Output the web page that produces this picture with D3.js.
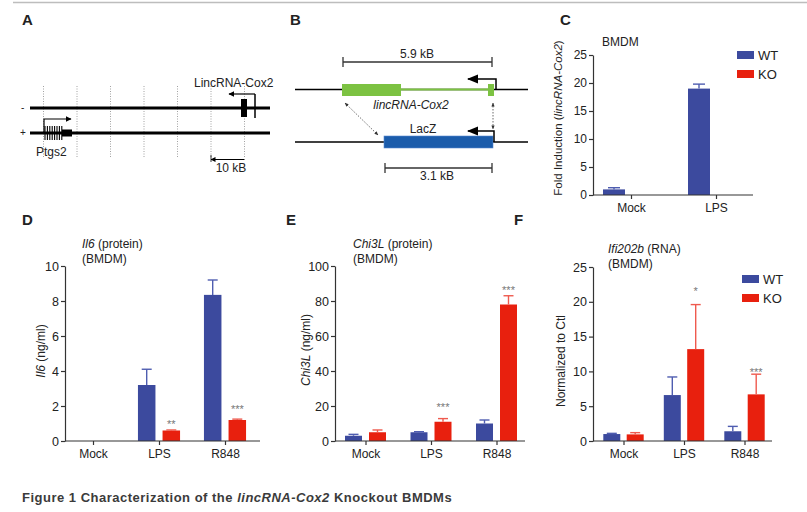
<!DOCTYPE html>
<html><head><meta charset="utf-8">
<script src="https://cdn.jsdelivr.net/npm/d3@7"></script>
<style>body{margin:0;background:#fff} svg{display:block;font-family:"Liberation Sans",Arial,Helvetica,sans-serif}</style>
</head><body><svg id="chart" width="807" height="512"></svg>
<script>
// ---------------- data ----------------
const seriesNames = ["WT", "KO"];
const groupsC = ["Mock", "LPS"];
const groupsDEF = ["Mock", "LPS", "R848"];
const ticksC = [0, 5, 10, 15, 20, 25];
const ticksD = [0, 2, 4, 6, 8, 10];
const ticksE = [0, 20, 40, 60, 80, 100];
const ticksF = [0, 5, 10, 15, 20, 25];

const lincWT = [1.0, 19.0];
const lincWTErr = [1.3, 19.8];
const lincKO = [0, 0];
const lincKOErr = [0, 0];

const il6WT = [0, 3.2, 8.35];
const il6WTErr = [0, 4.1, 9.2];
const il6KO = [0, 0.6, 1.2];
const il6KOErr = [0, 0.63, 1.25];
const il6Stars = ["", "**", "***"];
const il6StarAt = [0, 1.1, 1.95];

const chiWT = [3, 5, 10];
const chiWTErr = [3.8, 5.3, 12];
const chiKO = [5, 11, 78];
const chiKOErr = [6.3, 12.8, 83];
const chiStars = ["", "***", "***"];
const chiStarAt = [0, 20.6, 87.4];

const ifiWT = [1.0, 6.6, 1.4];
const ifiWTErr = [1.1, 9.2, 2.1];
const ifiKO = [0.95, 13.2, 6.7];
const ifiKOErr = [1.2, 19.6, 9.6];
const ifiStars = ["", "*", "***"];
const ifiStarAt = [0, 21.8, 10.2];

const gridKb = [0, 10, 20, 30, 40, 50, 60];

// ---------------- styles ----------------
const BLUE = "#3c4a9e", RED = "#e8200e";
const BLUE_ERR = "#4f5db0", RED_ERR = "#ef5a4e";
const AXIS = "#333";
const FONT = '"Liberation Sans",Arial,Helvetica,sans-serif';

const svg = d3.select("#chart");

// top separator
svg.append("line").attr("x1", 13).attr("x2", 807).attr("y1", 2.5).attr("y2", 2.5)
  .attr("stroke", "#bdbdbd").attr("stroke-width", 1.5);

function letter(t, x, y) {
  svg.append("text").attr("x", x).attr("y", y).text(t)
    .attr("font-size", 15).attr("font-weight", "bold").attr("fill", "#222");
}
function txt(g, t, x, y, size, anchor, style) {
  const e = g.append("text").attr("x", x).attr("y", y).text(t)
    .attr("font-size", size || 12).attr("fill", "#222").attr("text-anchor", anchor || "start");
  if (style) e.attr("font-style", style);
  return e;
}

// arrow markers
const defs = svg.append("defs");
defs.append("marker").attr("id", "ah").attr("viewBox", "0 0 10 10").attr("refX", 9).attr("refY", 5)
  .attr("markerWidth", 5).attr("markerHeight", 5).attr("orient", "auto-start-reverse")
  .append("path").attr("d", "M0,0L10,5L0,10z").attr("fill", "#000");
defs.append("marker").attr("id", "ahb").attr("viewBox", "0 0 10 10").attr("refX", 9).attr("refY", 5)
  .attr("markerWidth", 7.5).attr("markerHeight", 7.5).attr("orient", "auto-start-reverse")
  .append("path").attr("d", "M0,1L10,5L0,9z").attr("fill", "#000");
defs.append("marker").attr("id", "ahs").attr("viewBox", "0 0 10 10").attr("refX", 9).attr("refY", 5)
  .attr("markerWidth", 5).attr("markerHeight", 5).attr("orient", "auto-start-reverse")
  .append("path").attr("d", "M0,1L10,5L0,9z").attr("fill", "#333");

// ---------------- Panel A ----------------
letter("A", 22, 25);
{
  const g = svg.append("g");
  const xa = d3.scaleLinear().domain([0, 60]).range([43.5, 244.5]);
  g.selectAll("line.grid").data(gridKb).join("line")
    .attr("x1", d => xa(d)).attr("x2", d => xa(d)).attr("y1", 86).attr("y2", 157)
    .attr("stroke", "#8a8a8a").attr("stroke-width", 0.8).attr("stroke-dasharray", "1,1.5");
  [108, 133].forEach(y => g.append("line").attr("x1", 30).attr("x2", 270).attr("y1", y).attr("y2", y)
    .attr("stroke", "#000").attr("stroke-width", 3));
  txt(g, "-", 21, 111, 10); txt(g, "+", 20, 136, 10);
  // Ptgs2 exons
  d3.range(8).forEach(i => g.append("line").attr("x1", 45 + i * 2.4).attr("x2", 45 + i * 2.4)
    .attr("y1", 126).attr("y2", 140).attr("stroke", "#000").attr("stroke-width", 1.1));
  g.append("rect").attr("x", 62).attr("y", 129.5).attr("width", 10).attr("height", 7).attr("fill", "#000");
  g.append("path").attr("d", "M44,133V119H71").attr("fill", "none").attr("stroke", "#000")
    .attr("stroke-width", 1.2).attr("marker-end", "url(#ah)");
  txt(g, "Ptgs2", 36, 156, 12);
  // lincRNA-Cox2
  g.append("rect").attr("x", 241).attr("y", 99).attr("width", 6).attr("height", 18).attr("fill", "#000");
  g.append("line").attr("x1", 255).attr("x2", 255).attr("y1", 94).attr("y2", 118).attr("stroke", "#000").attr("stroke-width", 1.5);
  g.append("path").attr("d", "M255,94H229").attr("fill", "none").attr("stroke", "#000")
    .attr("stroke-width", 1.2).attr("marker-end", "url(#ah)");
  txt(g, "LincRNA-Cox2", 194, 87, 12);
  // scale
  g.append("line").attr("x1", 244.5).attr("x2", 211).attr("y1", 159.5).attr("y2", 159.5).attr("stroke", "#000")
    .attr("stroke-width", 1).attr("marker-end", "url(#ah)");
  g.append("line").attr("x1", 211).attr("x2", 211).attr("y1", 155).attr("y2", 162).attr("stroke", "#000").attr("stroke-width", 0.8);
  txt(g, "10 kB", 231, 172, 12, "middle");
}

// ---------------- Panel B ----------------
letter("B", 290, 25);
{
  const g = svg.append("g");
  const GREEN = "#7cc242", LACZ = "#1b5cab";
  g.append("line").attr("x1", 295).attr("x2", 528).attr("y1", 89.5).attr("y2", 89.5).attr("stroke", "#000").attr("stroke-width", 1.5);
  g.append("line").attr("x1", 401).attr("x2", 488).attr("y1", 89.5).attr("y2", 89.5).attr("stroke", GREEN).attr("stroke-width", 2);
  g.append("rect").attr("x", 342).attr("y", 84).attr("width", 59).attr("height", 12).attr("fill", GREEN);
  g.append("rect").attr("x", 488).attr("y", 84).attr("width", 6).attr("height", 12).attr("fill", GREEN);
  g.append("path").attr("d", "M496,89V79H468").attr("fill", "none").attr("stroke", "#000")
    .attr("stroke-width", 1.5).attr("marker-end", "url(#ahb)");
  // 5.9 kB bar
  g.append("line").attr("x1", 343).attr("x2", 492).attr("y1", 62).attr("y2", 62).attr("stroke", "#333").attr("stroke-width", 1.3);
  [343, 492].forEach(x => g.append("line").attr("x1", x).attr("x2", x).attr("y1", 57).attr("y2", 67).attr("stroke", "#333").attr("stroke-width", 1.3));
  txt(g, "5.9 kB", 417, 58, 12, "middle");
  txt(g, "lincRNA-Cox2", 411, 109, 12, "middle", "italic");
  // second line
  g.append("line").attr("x1", 295).attr("x2", 528).attr("y1", 142).attr("y2", 142).attr("stroke", "#000").attr("stroke-width", 1.5);
  g.append("rect").attr("x", 384).attr("y", 136).attr("width", 109).attr("height", 12).attr("fill", LACZ)
    .attr("stroke", "#5a8ad0").attr("stroke-width", 0.6);
  g.append("path").attr("d", "M494,142V131H468").attr("fill", "none").attr("stroke", "#000")
    .attr("stroke-width", 1.5).attr("marker-end", "url(#ahb)");
  txt(g, "LacZ", 423, 133, 12, "middle");
  // dotted arrows
  g.append("line").attr("x1", 345).attr("y1", 103).attr("x2", 378).attr("y2", 135)
    .attr("stroke", "#444").attr("stroke-width", 0.8).attr("stroke-dasharray", "1.5,1.5")
    .attr("marker-start", "url(#ahs)").attr("marker-end", "url(#ahs)");
  g.append("line").attr("x1", 493).attr("y1", 103).attr("x2", 493).attr("y2", 129)
    .attr("stroke", "#444").attr("stroke-width", 0.8).attr("stroke-dasharray", "1.5,1.5")
    .attr("marker-start", "url(#ahs)").attr("marker-end", "url(#ahs)");
  // 3.1 kB bar
  g.append("line").attr("x1", 385).attr("x2", 492).attr("y1", 168).attr("y2", 168).attr("stroke", "#333").attr("stroke-width", 1.3);
  [385, 492].forEach(x => g.append("line").attr("x1", x).attr("x2", x).attr("y1", 163).attr("y2", 173).attr("stroke", "#333").attr("stroke-width", 1.3));
  txt(g, "3.1 kB", 437, 180, 12, "middle");
}

// ---------------- bar panels ----------------
function barPanel(c) {
  const g = svg.append("g");
  const xs = d3.scalePoint().domain(c.groups).range(c.centers);
  const y = d3.scaleLinear().domain([0, c.yMax]).range([c.y0, c.yTop]);
  const series = [
    { v: c.wt, e: c.wtErr, fill: BLUE, err: BLUE_ERR, sgn: -1 },
    { v: c.ko, e: c.koErr, fill: RED, err: RED_ERR, sgn: 1 }
  ];
  series.forEach(s => {
    const data = c.groups.map((gname, i) => ({ g: gname, v: s.v[i], e: s.e[i] }));
    const cx = d => xs(d.g) + s.sgn * c.off;
    g.selectAll(null).data(data.filter(d => d.v > 0)).join("rect")
      .attr("x", d => cx(d) - c.barW / 2).attr("width", c.barW)
      .attr("y", d => y(d.v)).attr("height", d => y(0) - y(d.v)).attr("fill", s.fill);
    const ed = data.filter(d => d.e > d.v);
    g.selectAll(null).data(ed).join("line")
      .attr("x1", cx).attr("x2", cx).attr("y1", d => y(d.v)).attr("y2", d => y(d.e))
      .attr("stroke", s.err).attr("stroke-width", 1.4);
    g.selectAll(null).data(ed).join("line")
      .attr("x1", d => cx(d) - c.capW / 2).attr("x2", d => cx(d) + c.capW / 2)
      .attr("y1", d => y(d.e)).attr("y2", d => y(d.e))
      .attr("stroke", s.err).attr("stroke-width", 1.4);
  });
  // stars
  if (c.stars) {
    g.selectAll(null).data(c.groups.map((gname, i) => ({ g: gname, s: c.stars[i], at: c.starAt[i] })).filter(d => d.s))
      .join("text").attr("x", d => xs(d.g) + c.off).attr("y", d => y(d.at) + 6)
      .attr("text-anchor", "middle").attr("font-size", 11).attr("fill", "#777").text(d => d.s);
  }
  // y axis
  const ya = g.append("g").attr("transform", `translate(${c.x0},0)`)
    .call(d3.axisLeft(y).tickValues(c.ticks).tickSize(4).tickSizeOuter(0).tickPadding(2));
  ya.attr("font-family", FONT).attr("font-size", c.tickSize || 12.5);
  ya.selectAll("path,line").attr("stroke", AXIS).attr("stroke-width", 1.2);
  ya.selectAll("text").attr("fill", "#222");
  // x axis
  const xa = g.append("g").attr("transform", `translate(0,${c.y0})`)
    .call(d3.axisBottom(xs).tickSize(4).tickSizeOuter(0).tickPadding(4));
  xa.select(".domain").remove();
  xa.append("line").attr("x1", c.x0).attr("x2", c.x1).attr("stroke", AXIS).attr("stroke-width", 1.2);
  xa.attr("font-family", FONT).attr("font-size", 12);
  xa.selectAll("line").attr("stroke", AXIS).attr("stroke-width", 1.2);
  xa.selectAll("text").attr("fill", "#222");
  // y label
  const yl = g.append("text").attr("transform", `translate(${c.ylx},${c.yly}) rotate(-90)`)
    .attr("text-anchor", "middle").attr("font-size", c.ylSize || 12).attr("fill", "#222");
  c.ylabel.forEach(p => yl.append("tspan").text(p[0]).attr("font-style", p[1] ? "italic" : "normal"));
  // subtitle
  if (c.sub) {
    const t1 = g.append("text").attr("x", c.subX).attr("y", c.subY).attr("font-size", 12).attr("fill", "#222");
    c.sub.forEach(p => t1.append("tspan").text(p[0]).attr("font-style", p[1] ? "italic" : "normal"));
    g.append("text").attr("x", c.subX).attr("y", c.subY + 15).attr("font-size", 12).attr("fill", "#222").text("(BMDM)");
  }
  // legend
  if (c.legend) {
    seriesNames.forEach((n, i) => {
      g.append("rect").attr("x", c.legend[0]).attr("y", c.legend[1] + i * 19).attr("width", 17).attr("height", 8)
        .attr("fill", i ? RED : BLUE);
      g.append("text").attr("x", c.legend[0] + 21).attr("y", c.legend[1] + i * 19 + 8.5).attr("font-size", 13)
        .attr("fill", "#222").text(n);
    });
  }
}

// Panel C
letter("C", 560, 25);
txt(svg, "BMDM", 602, 46, 12);
barPanel({
  groups: groupsC, centers: [631, 716], x0: 593, x1: 753, y0: 195, yTop: 55, yMax: 25, ticks: ticksC,
  wt: lincWT, wtErr: lincWTErr, ko: lincKO, koErr: lincKOErr, barW: 22, off: 17, capW: 12,
  ylabel: [["Fold Induction ("], ["lincRNA-Cox2", true], [")"]], ylx: 562, yly: 118, ylSize: 11.5,
  legend: [737, 51], tickSize: 12
});

// Panel D
letter("D", 22, 225);
barPanel({
  groups: groupsDEF, centers: [93, 225], x0: 65, x1: 260, y0: 441, yTop: 266, yMax: 10, ticks: ticksD,
  wt: il6WT, wtErr: il6WTErr, ko: il6KO, koErr: il6KOErr, barW: 17.5, off: 12.3, capW: 10,
  stars: il6Stars, starAt: il6StarAt,
  ylabel: [["Il6", true], [" (ng/ml)"]], ylx: 45, yly: 351,
  sub: [["Il6", true], [" (protein)"]], subX: 82, subY: 248
});

// Panel E
letter("E", 286, 225);
barPanel({
  groups: groupsDEF, centers: [365.5, 496.5], x0: 335, x1: 525, y0: 441, yTop: 266, yMax: 100, ticks: ticksE,
  wt: chiWT, wtErr: chiWTErr, ko: chiKO, koErr: chiKOErr, barW: 17, off: 12, capW: 10,
  stars: chiStars, starAt: chiStarAt,
  ylabel: [["Chi3L", true], [" (ng/ml)"]], ylx: 310, yly: 350,
  sub: [["Chi3L", true], [" (protein)"]], subX: 353, subY: 248
});

// Panel F
letter("F", 514, 225);
barPanel({
  groups: groupsDEF, centers: [623.5, 744.5], x0: 593, x1: 772, y0: 441, yTop: 267, yMax: 25, ticks: ticksF,
  wt: ifiWT, wtErr: ifiWTErr, ko: ifiKO, koErr: ifiKOErr, barW: 17, off: 11.7, capW: 10,
  stars: ifiStars, starAt: ifiStarAt,
  ylabel: [["Normalized to Ctl"]], ylx: 565, yly: 361,
  sub: [["Ifi202b", true], [" (RNA)"]], subX: 608, subY: 253,
  legend: [742, 275]
});

// caption
{
  const t = svg.append("text").attr("x", 22).attr("y", 502).attr("font-size", 13)
    .attr("font-weight", "bold").attr("fill", "#3b3b3b").attr("letter-spacing", 0.5);
  t.append("tspan").text("Figure 1 Characterization of the ");
  t.append("tspan").text("lincRNA-Cox2").attr("font-style", "italic");
  t.append("tspan").text(" Knockout BMDMs");
}
</script></body></html>
